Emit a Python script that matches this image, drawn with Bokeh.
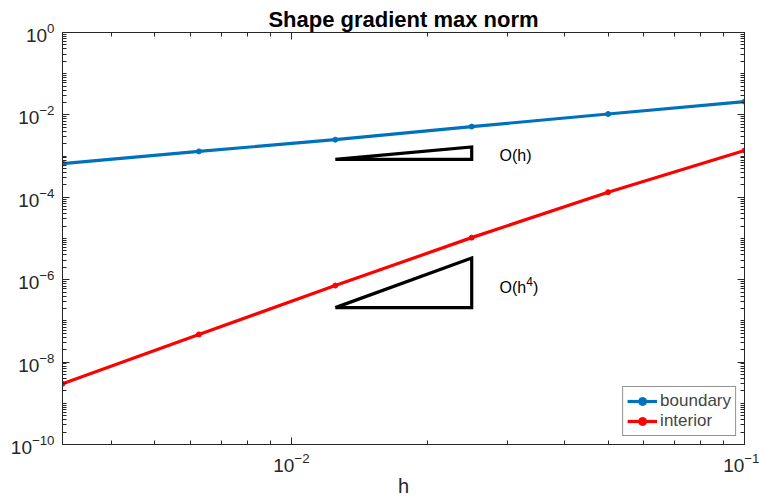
from bokeh.plotting import figure
from bokeh.models import FixedTicker, LogAxis, Legend, LegendItem, Label
from bokeh.embed import file_html
from bokeh.resources import INLINE

# ---- data ----
h = [0.1, 0.05, 0.025, 0.0125, 0.00625, 0.003125]
boundary = [2.1e-2, 1.05e-2, 5.2e-3, 2.5e-3, 1.3e-3, 6.6e-4]
interior = [1.37e-3, 1.33e-4, 1.05e-5, 7.2e-7, 4.7e-8, 2.97e-9]

# slope triangles
tri1_x = [0.0125, 0.025, 0.025, 0.0125]
tri1_y = [8.3e-4, 8.3e-4, 1.66e-3, 8.3e-4]
tri4_x = [0.0125, 0.025, 0.025, 0.0125]
tri4_y = [2.1e-7, 2.1e-7, 3.36e-6, 2.1e-7]

x_major = [0.01, 0.1]
x_minor = [m * 10.0 ** k for k in (-3, -2) for m in range(2, 10)]
y_major = [10.0 ** k for k in range(-10, 1, 2)]
y_minor = [m * 10.0 ** k for k in range(-10, 0) for m in range(1, 10)]

FONT = "Liberation Sans"
DARK = "#262626"
BLUE = "#0072BD"
RED = "#FF0000"

p = figure(width=759, height=504, x_axis_type="log", y_axis_type="log",
           x_range=(0.003125, 0.1), y_range=(1e-10, 1.0),
           output_backend="svg", toolbar_location=None,
           min_border_left=62, min_border_right=15, min_border_top=32, min_border_bottom=60)
p.grid.visible = False
p.outline_line_color = DARK
p.background_fill_color = "white"

p.title.text = "Shape gradient max norm"
p.title.align = "center"
p.title.text_font = FONT
p.title.text_font_size = "22px"
p.title.text_font_style = "bold"
p.title.text_color = "black"
p.title.standoff = 2

xt = FixedTicker(ticks=x_major, minor_ticks=x_minor)
yt = FixedTicker(ticks=y_major, minor_ticks=y_minor)

def style(ax, labels=True):
    ax.axis_line_color = DARK
    ax.major_tick_line_color = DARK
    ax.minor_tick_line_color = DARK
    ax.major_tick_in = 7
    ax.major_tick_out = 0
    ax.minor_tick_in = 4
    ax.minor_tick_out = 0
    ax.major_label_text_font = FONT
    ax.major_label_text_color = DARK
    ax.major_label_text_font_size = "19px"
    if not labels:
        ax.major_label_text_font_size = "1px"
        ax.major_label_text_alpha = 0
        ax.major_label_standoff = 0

p.xaxis.ticker = xt
p.yaxis.ticker = yt
style(p.xaxis[0])
style(p.yaxis[0])
p.xaxis.major_label_standoff = 8
p.yaxis.major_label_standoff = 8
p.xaxis.axis_label = "h"
p.xaxis.axis_label_text_font = FONT
p.xaxis.axis_label_text_font_style = "normal"
p.xaxis.axis_label_text_font_size = "20px"
p.xaxis.axis_label_text_color = DARK
p.xaxis.axis_label_standoff = 0

top = LogAxis(ticker=FixedTicker(ticks=x_major, minor_ticks=x_minor))
style(top, labels=False)
p.add_layout(top, "above")
right = LogAxis(ticker=FixedTicker(ticks=y_major, minor_ticks=y_minor))
style(right, labels=False)
p.add_layout(right, "right")

# series
lb = p.line(h, boundary, line_color=BLUE, line_width=3.2)
sb = p.scatter(h, boundary, marker="circle", size=5, fill_color=BLUE, line_color=BLUE)
li = p.line(h, interior, line_color=RED, line_width=3.2)
si = p.scatter(h, interior, marker="circle", size=5, fill_color=RED, line_color=RED)

# triangles
p.line(tri1_x, tri1_y, line_color="black", line_width=3.2, line_join="miter")
p.line(tri4_x, tri4_y, line_color="black", line_width=3.2, line_join="miter")

p.add_layout(Label(x=0.0288, y=1.03e-3, text="O(h)", text_font=FONT, text_font_size="16px",
                   text_baseline="middle", text_color="black"))
p.add_layout(Label(x=0.0288, y=6.5e-7, text="O(h", text_font=FONT, text_font_size="16px",
                   text_baseline="middle", text_color="black"))
p.add_layout(Label(x=0.0288, y=6.5e-7, x_offset=26.7, y_offset=6, text="4", text_font=FONT,
                   text_font_size="12px", text_baseline="middle", text_color="black"))
p.add_layout(Label(x=0.0288, y=6.5e-7, x_offset=33.5, text=")", text_font=FONT, text_font_size="16px",
                   text_baseline="middle", text_color="black"))

legend = Legend(items=[LegendItem(label="boundary", renderers=[lb, sb]),
                       LegendItem(label="interior", renderers=[li, si])],
                location="bottom_right", margin=8, padding=4, spacing=0,
                label_text_font=FONT, label_text_font_size="17px", label_standoff=3,
                glyph_width=30, glyph_height=20, label_height=20,
                border_line_color=DARK, border_line_width=1, background_fill_alpha=1)
p.add_layout(legend, "center")

open("out.html", "w").write(file_html(p, INLINE))
